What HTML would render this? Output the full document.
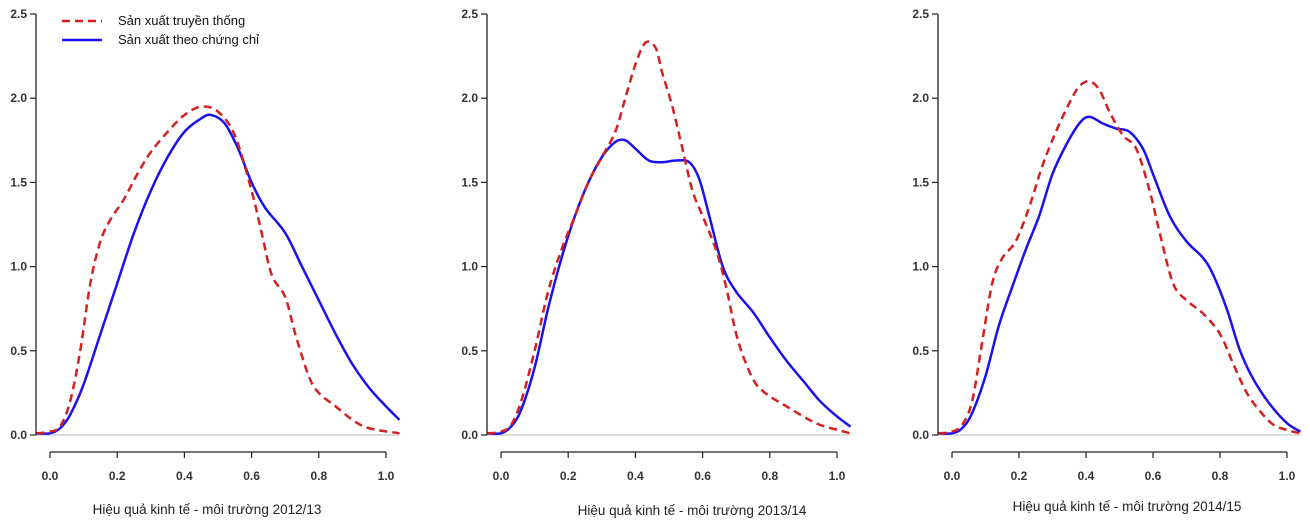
<!DOCTYPE html>
<html><head><meta charset="utf-8"><style>
body{margin:0;background:#fff;}
svg{display:block;font-family:"Liberation Sans",sans-serif;}
</style></head><body>
<svg id="s" width="1310" height="521" xmlns="http://www.w3.org/2000/svg">
<line x1="62" y1="21" x2="102" y2="21" stroke="#d42020" stroke-width="2.5" stroke-dasharray="8,5"/>
<line x1="62" y1="40" x2="102" y2="40" stroke="#1a10f0" stroke-width="2.5"/>
<text x="118" y="25" font-size="13" fill="#111">Sản xuất truyền thống</text>
<text x="118" y="44" font-size="13" fill="#111">Sản xuất theo chứng chỉ</text>
<text x="207" y="514" font-size="13.5" fill="#222" text-anchor="middle">Hiệu quả kinh tế - môi trường 2012/13</text>
<text x="692" y="515" font-size="13.5" fill="#222" text-anchor="middle">Hiệu quả kinh tế - môi trường 2013/14</text>
<text x="1127" y="511" font-size="13.5" fill="#222" text-anchor="middle">Hiệu quả kinh tế - môi trường 2014/15</text>
</svg>
<script>
var s=document.getElementById('s'),NS='http://www.w3.org/2000/svg';
function el(t,a,txt){var e=document.createElementNS(NS,t);for(var k in a)e.setAttribute(k,a[k]);if(txt)e.textContent=txt;s.appendChild(e);return e;}
var panels=[
{ax:36,x0:50,x1:386,
r:[[-0.04,0.01],[0,0.02],[0.03,0.05],[0.06,0.2],[0.09,0.5],[0.12,0.9],[0.15,1.15],[0.18,1.28],[0.22,1.4],[0.26,1.55],[0.3,1.68],[0.35,1.8],[0.4,1.9],[0.45,1.95],[0.5,1.92],[0.55,1.78],[0.6,1.45],[0.63,1.2],[0.66,0.95],[0.7,0.82],[0.73,0.6],[0.77,0.35],[0.8,0.25],[0.85,0.17],[0.9,0.09],[0.95,0.04],[1.04,0.01]],
b:[[-0.04,0.01],[0,0.01],[0.03,0.04],[0.06,0.12],[0.1,0.3],[0.15,0.6],[0.2,0.9],[0.25,1.2],[0.3,1.45],[0.35,1.65],[0.4,1.8],[0.45,1.88],[0.48,1.9],[0.52,1.85],[0.56,1.7],[0.6,1.5],[0.64,1.35],[0.7,1.2],[0.75,1.0],[0.8,0.8],[0.85,0.6],[0.9,0.42],[0.95,0.28],[1.0,0.17],[1.04,0.09]]},
{ax:487,x0:501,x1:837,
r:[[-0.04,0.01],[0,0.02],[0.03,0.06],[0.06,0.2],[0.1,0.5],[0.14,0.85],[0.18,1.1],[0.22,1.3],[0.26,1.5],[0.3,1.65],[0.34,1.8],[0.37,2.0],[0.4,2.2],[0.43,2.33],[0.46,2.3],[0.48,2.15],[0.51,1.95],[0.54,1.7],[0.57,1.45],[0.6,1.3],[0.64,1.1],[0.67,0.88],[0.7,0.6],[0.73,0.42],[0.76,0.3],[0.8,0.23],[0.85,0.17],[0.9,0.11],[0.95,0.06],[1.04,0.01]],
b:[[-0.04,0.01],[0,0.01],[0.03,0.05],[0.06,0.15],[0.1,0.4],[0.14,0.75],[0.18,1.05],[0.22,1.3],[0.26,1.5],[0.3,1.65],[0.34,1.74],[0.37,1.75],[0.4,1.7],[0.44,1.63],[0.48,1.62],[0.52,1.63],[0.56,1.62],[0.59,1.52],[0.62,1.3],[0.66,1.0],[0.7,0.85],[0.75,0.73],[0.8,0.58],[0.85,0.44],[0.9,0.32],[0.95,0.2],[1.0,0.11],[1.04,0.05]]},
{ax:938,x0:952,x1:1287,
r:[[-0.04,0.01],[0,0.02],[0.03,0.06],[0.06,0.2],[0.09,0.55],[0.12,0.9],[0.15,1.05],[0.19,1.15],[0.23,1.35],[0.27,1.6],[0.31,1.8],[0.35,1.97],[0.38,2.07],[0.41,2.1],[0.44,2.05],[0.47,1.92],[0.51,1.78],[0.55,1.7],[0.59,1.45],[0.62,1.2],[0.66,0.9],[0.7,0.8],[0.75,0.72],[0.8,0.6],[0.84,0.42],[0.88,0.25],[0.92,0.14],[0.96,0.06],[1.0,0.03],[1.04,0.01]],
b:[[-0.04,0.01],[0,0.01],[0.03,0.04],[0.06,0.13],[0.1,0.35],[0.14,0.65],[0.18,0.88],[0.22,1.1],[0.26,1.3],[0.3,1.55],[0.34,1.72],[0.38,1.85],[0.41,1.89],[0.45,1.85],[0.49,1.82],[0.53,1.8],[0.57,1.7],[0.6,1.55],[0.65,1.3],[0.7,1.15],[0.75,1.05],[0.78,0.95],[0.82,0.75],[0.86,0.5],[0.9,0.33],[0.95,0.18],[1.0,0.07],[1.04,0.02]]}
];
var Y0=435,SY=168.4;
function path(pts,P){var sx=P.x1-P.x0,p=pts.map(function(q){return [P.x0+q[0]*sx,Y0-q[1]*SY];});
var d='M'+p[0][0]+','+p[0][1];
for(var i=0;i<p.length-1;i++){var a=p[i>0?i-1:i],b=p[i],c=p[i+1],e=p[i+2<p.length?i+2:i+1];
d+=' C'+(b[0]+(c[0]-a[0])/6)+','+(b[1]+(c[1]-a[1])/6)+' '+(c[0]-(e[0]-b[0])/6)+','+(c[1]-(e[1]-b[1])/6)+' '+c[0]+','+c[1];}
return d;}
panels.forEach(function(P){
var sx=P.x1-P.x0,xr=P.x0+1.04*sx;
el('line',{x1:P.ax,y1:Y0,x2:xr,y2:Y0,stroke:'#c8c8c8','stroke-width':1.2});
el('line',{x1:P.ax,y1:14,x2:P.ax,y2:Y0,stroke:'#222','stroke-width':1.3});
for(var i=0;i<=5;i++){var y=Y0-i*0.5*SY;
el('line',{x1:P.ax-6,y1:y,x2:P.ax,y2:y,stroke:'#222','stroke-width':1.2});
el('text',{x:P.ax-9,y:y+4,'font-size':12,'font-weight':'bold',fill:'#333','text-anchor':'end'},(i*0.5).toFixed(1));}
el('line',{x1:P.x0,y1:452,x2:P.x1,y2:452,stroke:'#222','stroke-width':1.3});
for(var j=0;j<=5;j++){var x=P.x0+j*0.2*sx;
el('line',{x1:x,y1:452,x2:x,y2:458,stroke:'#222','stroke-width':1.2});
el('text',{x:x,y:480,'font-size':12,'font-weight':'bold',fill:'#333','text-anchor':'middle'},(j*0.2).toFixed(1));}
el('path',{d:path(P.b,P),fill:'none',stroke:'#1a10f0','stroke-width':2.5,'stroke-linejoin':'round'});
el('path',{d:path(P.r,P),fill:'none',stroke:'#d42020','stroke-width':2.5,'stroke-dasharray':'8,5'});
});
</script>
</body></html>
